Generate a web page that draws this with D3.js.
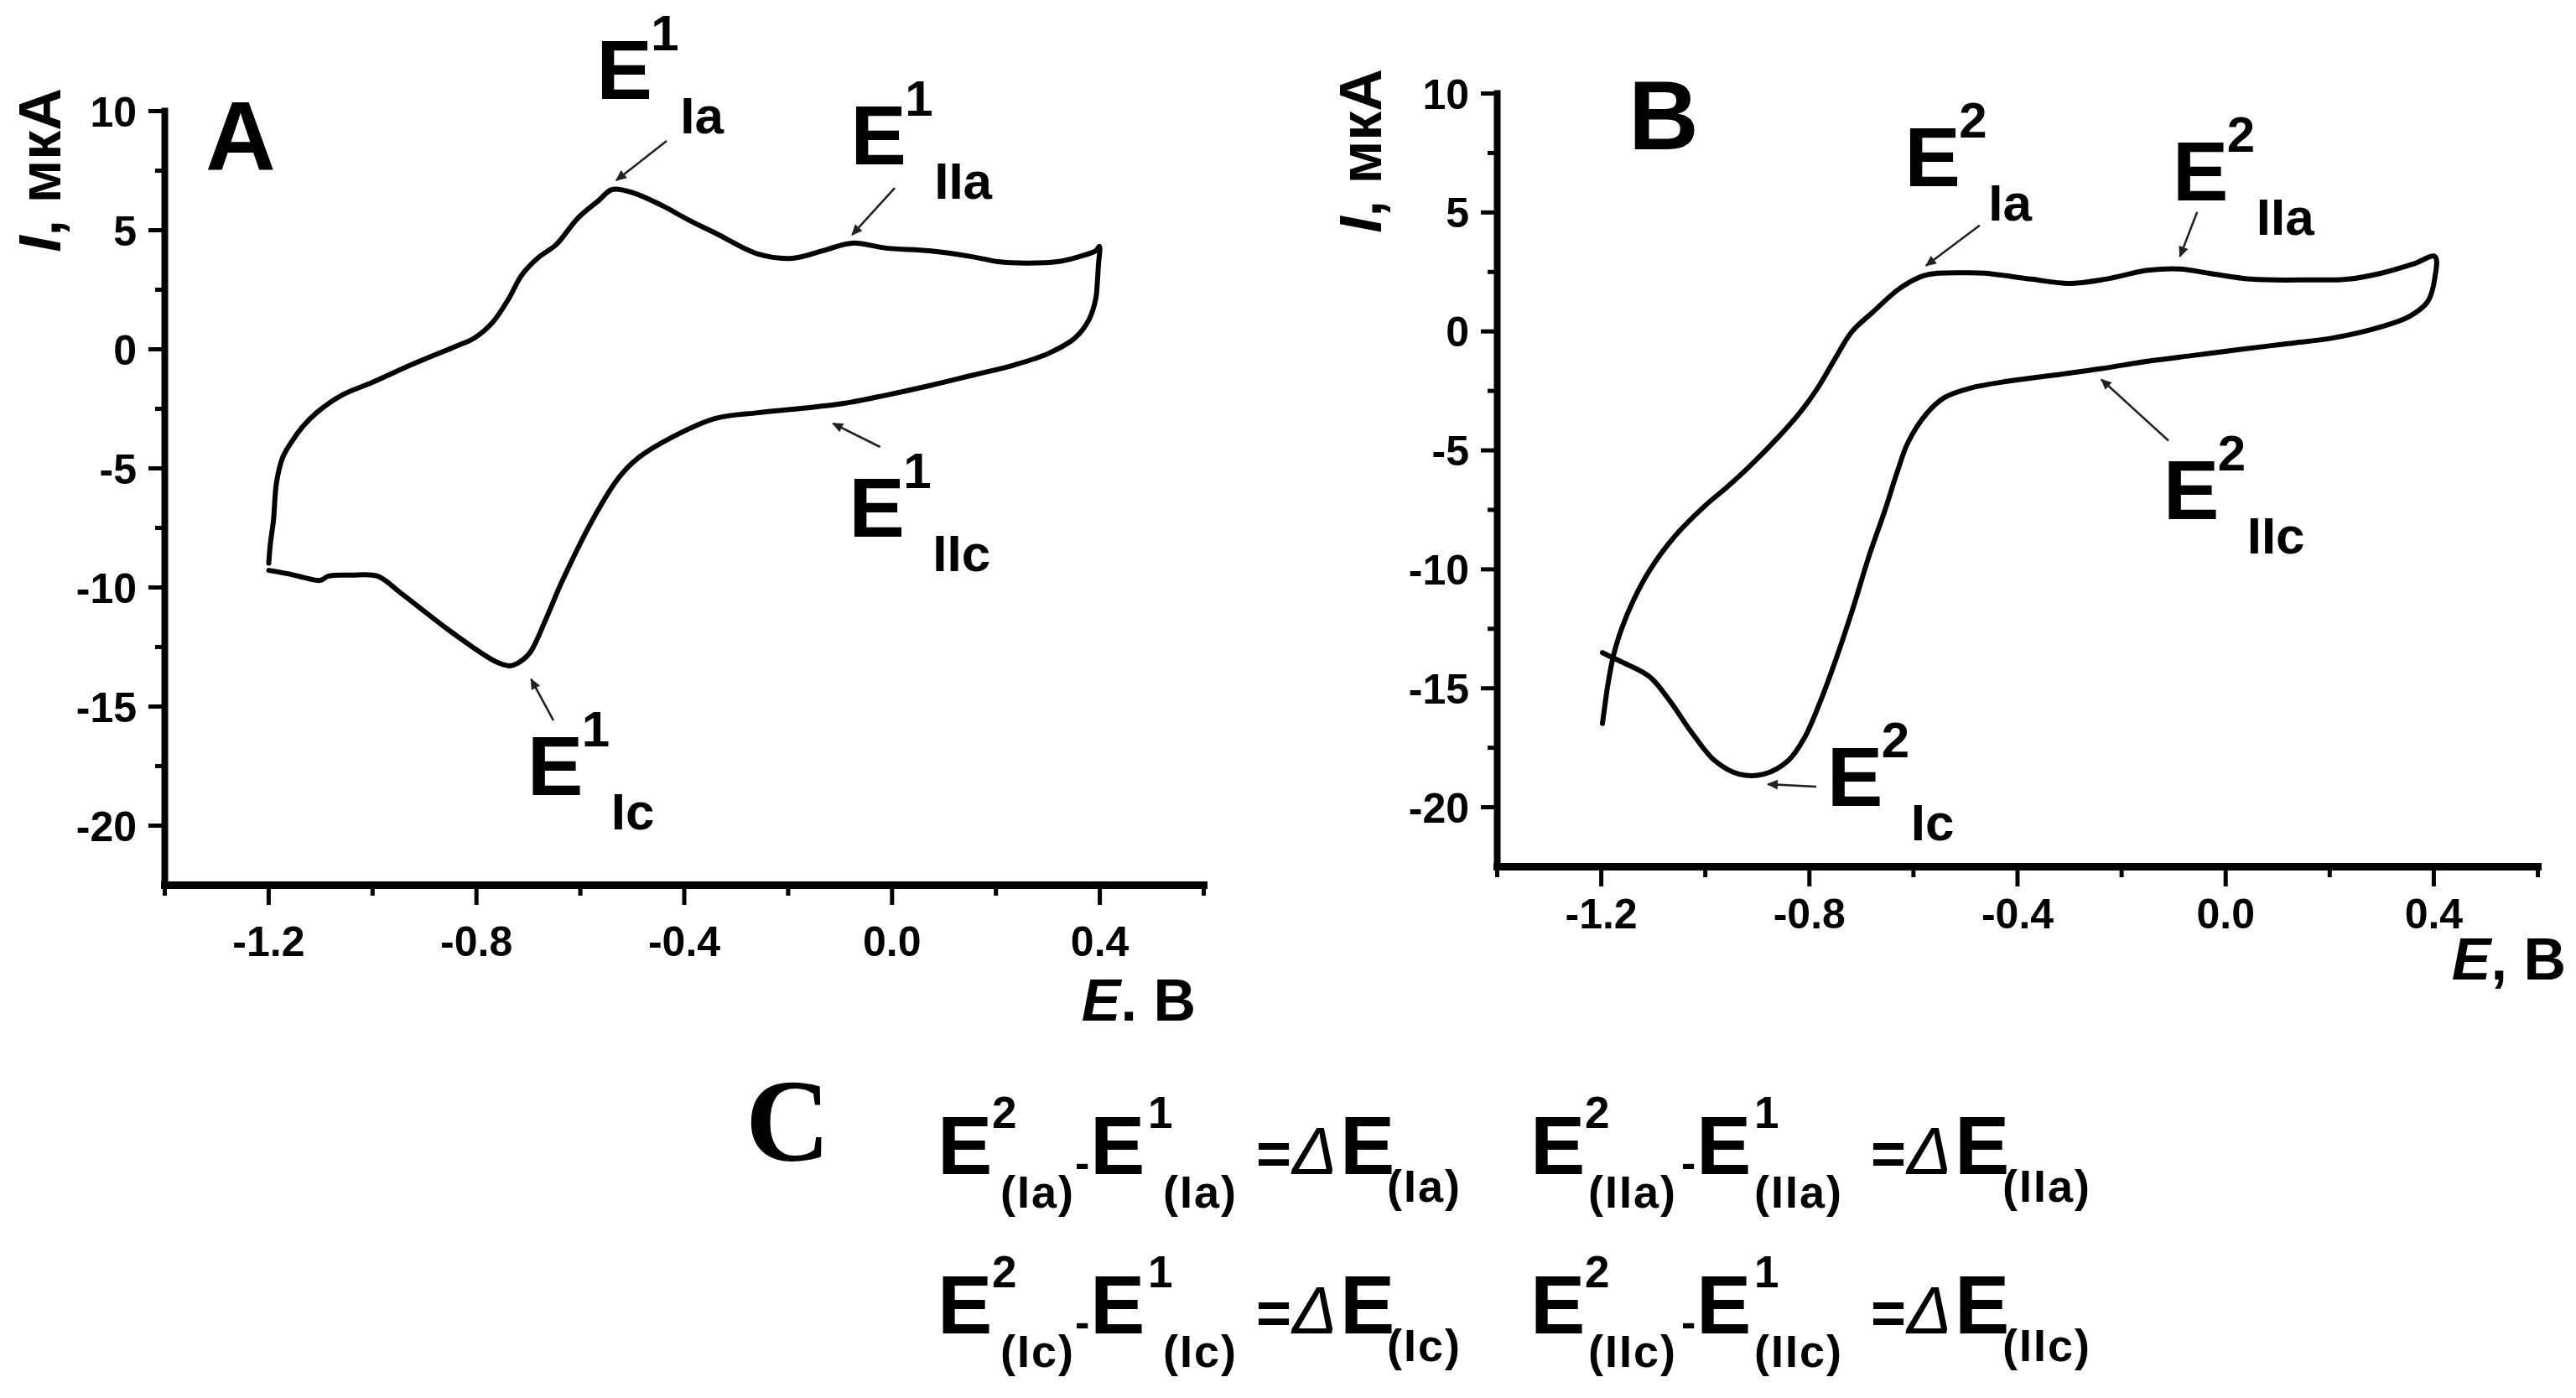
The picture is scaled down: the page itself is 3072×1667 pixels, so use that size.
<!DOCTYPE html>
<html><head><meta charset="utf-8">
<script src="https://cdn.jsdelivr.net/npm/d3@7"></script>
<style>
html,body{margin:0;padding:0;background:#fff;}
svg text{fill:#000;}
</style></head><body>
<svg id="c" width="3072" height="1667" style="font-family:'Liberation Sans',Arial,sans-serif;font-weight:bold;"></svg>
<script>
// ---------- data ----------
const xTickValues = [-1.2, -0.8, -0.4, 0.0, 0.4];
const xTickLabels = ["-1.2", "-0.8", "-0.4", "0.0", "0.4"];
const xMinorTicks = [-1.4, -1.0, -0.6, -0.2, 0.2, 0.6];
const yTickValues = [10, 5, 0, -5, -10, -15, -20];
const yTickLabels = ["10", "5", "0", "-5", "-10", "-15", "-20"];
const yMinorTicks = [7.5, 2.5, -2.5, -7.5, -12.5, -17.5];
const xDomain = [-1.4, 0.6];
const yDomain = [-22.5, 10];

// Panel A voltammogram (E, V ; I, мкА)
const cvA_E = [-1.199,-1.196,-1.190,-1.184,-1.172,-1.155,-1.135,-1.107,-1.058,-1.000,-0.925,-0.843,-0.803,-0.769,-0.737,-0.712,-0.678,-0.646,-0.604,-0.564,-0.538,-0.498,-0.440,-0.390,-0.339,-0.257,-0.191,-0.125,-0.076,-0.010,0.072,0.155,0.205,0.260,0.319,0.361,0.393,0.400,
  0.398,0.396,0.393,0.380,0.353,0.303,0.237,0.155,0.072,-0.010,-0.092,-0.175,-0.257,-0.339,-0.422,-0.488,-0.525,-0.574,-0.635,-0.666,-0.697,-0.720,-0.735,-0.755,-0.774,-0.851,-0.945,-0.990,-1.040,-1.084,-1.100,-1.130,-1.160,-1.199];
const cvA_I = [-9.0,-8.2,-7.2,-5.6,-4.55,-3.9,-3.3,-2.68,-1.94,-1.41,-0.67,0.07,0.46,1.09,2.11,3.10,3.87,4.37,5.49,6.23,6.69,6.55,6.0,5.4,4.86,3.98,3.80,4.17,4.44,4.23,4.12,3.87,3.66,3.60,3.66,3.87,4.12,4.3,
  3.49,2.8,2.11,1.23,0.46,-0.18,-0.67,-1.11,-1.55,-1.94,-2.29,-2.50,-2.68,-2.92,-3.70,-4.58,-5.4,-7.11,-9.79,-11.37,-12.78,-13.2,-13.31,-13.2,-12.99,-11.83,-10.25,-9.54,-9.5,-9.54,-9.72,-9.61,-9.45,-9.3];

// Panel B voltammogram
const cvB_E = [-1.197,-1.192,-1.187,-1.176,-1.161,-1.137,-1.106,-1.058,-1.000,-0.957,-0.910,-0.858,-0.817,-0.784,-0.750,-0.718,-0.677,-0.625,-0.579,-0.552,-0.500,-0.462,-0.373,-0.301,-0.230,-0.149,-0.087,-0.032,0.049,0.165,0.237,0.300,0.362,0.403,
  0.403,0.389,0.353,0.300,0.210,0.120,0.031,-0.059,-0.149,-0.238,-0.328,-0.417,-0.490,-0.540,-0.575,-0.610,-0.630,-0.655,-0.684,-0.715,-0.746,-0.778,-0.809,-0.840,-0.887,-0.934,-0.981,-1.028,-1.067,-1.106,-1.153,-1.184,-1.197];
const cvB_I = [-16.5,-15.7,-14.93,-13.66,-12.57,-11.30,-10.05,-8.63,-7.35,-6.55,-5.6,-4.44,-3.42,-2.42,-1.17,-0.04,0.8,1.8,2.33,2.43,2.45,2.43,2.18,2.0,2.18,2.55,2.61,2.43,2.18,2.15,2.18,2.43,2.82,3.13,
  2.25,1.23,0.60,0.18,-0.28,-0.53,-0.77,-1.02,-1.27,-1.58,-1.85,-2.11,-2.4,-2.8,-3.5,-4.7,-5.9,-7.6,-9.42,-11.62,-13.66,-15.56,-17.11,-18.06,-18.63,-18.63,-18.06,-16.8,-15.56,-14.54,-13.98,-13.66,-13.52];

// Peak labels (placed in data coordinates) and arrows
const peaksA_sup = ["1","1","1","1"];
const peaksA_sub = ["Ia","IIa","IIc","Ic"];
const peaksA_labelE = [-0.557,-0.068,-0.071,-0.690];
const peaksA_labelI = [10.49,7.75,-7.89,-18.73];
const peaksA_arrowFrom = [[-0.433,8.73],[0.006,6.76],[-0.022,-4.12],[-0.651,-15.6]];
const peaksA_arrowTo = [[-0.530,7.08],[-0.076,4.79],[-0.113,-3.13],[-0.694,-13.87]];

const peaksB_sup = ["2","2","2","2"];
const peaksB_sub = ["Ia","IIa","IIc","Ic"];
const peaksB_labelE = [-0.605,-0.090,-0.108,-0.754];
const peaksB_labelI = [6.09,5.49,-7.92,-19.96];
const peaksB_arrowFrom = [[-0.472,4.44],[-0.054,5.0],[-0.109,-4.61],[-0.786,-19.15]];
const peaksB_arrowTo = [[-0.575,2.75],[-0.087,3.13],[-0.238,-2.04],[-0.879,-19.05]];

const formulaRowSubs = [["(Ia)","(IIa)"],["(Ic)","(IIc)"]];

// ---------- drawing ----------
const svg = d3.select("#c");
const defs = svg.append("defs");
defs.append("marker").attr("id","ah").attr("viewBox","0 0 10 10")
  .attr("refX",9).attr("refY",5).attr("markerWidth",6).attr("markerHeight",5)
  .attr("orient","auto").attr("markerUnits","strokeWidth")
  .append("path").attr("d","M0,0.5 L10,5 L0,9.5 z").attr("fill","#222");

function txt(g, x, y, size, s) {
  return g.append("text").attr("x", x).attr("y", y).style("font-size", size + "px").text(s);
}

function peakLabel(g, X, Y, sup, sub) {
  txt(g, X - 7, Y, 100, "E");
  txt(g, X + 58, Y - 58, 60, sup);
  txt(g, X + 93, Y + 41, 62, sub);
}

function drawPanel(p) {
  const g = svg.append("g");
  const x = d3.scaleLinear().domain(xDomain).range([p.left, p.right]);
  const y = d3.scaleLinear().domain(yDomain).range([p.bottom, p.top]);

  const pts = p.E.map((e, i) => [e, p.I[i]]);
  g.append("path")
    .attr("d", d3.line().x(d => x(d[0])).y(d => y(d[1])).curve(d3.curveCatmullRom.alpha(0.5))(pts))
    .attr("fill","none").attr("stroke","#000").attr("stroke-width",6)
    .attr("stroke-linejoin","round").attr("stroke-linecap","round");

  const gyMinor = g.append("g").attr("transform",`translate(${p.left},0)`)
    .call(d3.axisLeft(y).tickValues(yMinorTicks).tickFormat("").tickSize(11).tickSizeOuter(0));
  const gy = g.append("g").attr("transform",`translate(${p.left},0)`)
    .call(d3.axisLeft(y).tickValues(yTickValues).tickFormat((d,i)=>yTickLabels[i])
      .tickSize(19).tickSizeOuter(0).tickPadding(14));
  const gxMinor = g.append("g").attr("transform",`translate(0,${p.bottom})`)
    .call(d3.axisBottom(x).tickValues(xMinorTicks).tickFormat("").tickSize(13).tickSizeOuter(0));
  const gx = g.append("g").attr("transform",`translate(0,${p.bottom})`)
    .call(d3.axisBottom(x).tickValues(xTickValues).tickFormat((d,i)=>xTickLabels[i])
      .tickSize(24).tickSizeOuter(0));
  gx.selectAll(".tick text").attr("y", p.xTickBaseline).attr("dy", 0);

  [gy, gx, gyMinor, gxMinor].forEach(a => {
    a.attr("font-family", null).attr("font-size", null);
    a.selectAll(".tick line").attr("stroke","#000").attr("stroke-width",5);
    a.selectAll("text").style("font-size","50px").style("font-family","'Liberation Sans',Arial,sans-serif")
      .style("font-weight","bold").attr("fill","#000");
  });
  gy.selectAll(".tick text").attr("dy","0.36em");
  gyMinor.select(".domain").remove();
  gxMinor.select(".domain").remove();
  gy.select(".domain").attr("stroke","#000").attr("stroke-width",8).attr("stroke-linecap","square");
  gx.select(".domain").attr("stroke","#000").attr("stroke-width",9).attr("stroke-linecap","square");

  const yl = g.append("text").attr("transform",`translate(${p.yTitleX},${p.yTitleY}) rotate(-90)`)
    .attr("text-anchor","middle").style("font-size","70px");
  yl.append("tspan").style("font-style","italic").text("I");
  yl.append("tspan").text(", мкА");
  const xl = g.append("text").attr("x", p.xTitleX).attr("y", p.xTitleY)
    .attr("text-anchor","end").style("font-size","70px");
  xl.append("tspan").style("font-style","italic").text("E");
  xl.append("tspan").text(p.xTitleRest);

  txt(g, x(p.letterE), y(p.letterI), 116, p.letter);

  p.sup.forEach((s, i) => {
    peakLabel(g, x(p.labelE[i]), y(p.labelI[i]), s, p.sub[i]);
    g.append("line")
      .attr("x1", x(p.from[i][0])).attr("y1", y(p.from[i][1]))
      .attr("x2", x(p.to[i][0])).attr("y2", y(p.to[i][1]))
      .attr("stroke","#222").attr("stroke-width",2.6).attr("marker-end","url(#ah)");
  });
}

drawPanel({left:196, right:1435, top:132, bottom:1055, E:cvA_E, I:cvA_I,
  xTickBaseline:85, yTitleX:72, yTitleY:203, xTitleX:1426, xTitleY:1217, xTitleRest:". В",
  letter:"A", letterE:-1.321, letterI:7.50,
  sup:peaksA_sup, sub:peaksA_sub, labelE:peaksA_labelE, labelI:peaksA_labelI,
  from:peaksA_arrowFrom, to:peaksA_arrowTo});

drawPanel({left:1785, right:3026, top:111, bottom:1033, E:cvB_E, I:cvB_I,
  xTickBaseline:74, yTitleX:1647, yTitleY:180, xTitleX:3060, xTitleY:1168, xTitleRest:", В",
  letter:"B", letterE:-1.147, letterI:7.64,
  sup:peaksB_sup, sub:peaksB_sub, labelE:peaksB_labelE, labelI:peaksB_labelI,
  from:peaksB_arrowFrom, to:peaksB_arrowTo});

// ---------- section C ----------
const gc = svg.append("g");
txt(gc, 889, 1384, 140, "C").style("font-family","'Liberation Serif','Times New Roman',serif").style("font-weight","bold");

function sub(X, Y, s) {
  return txt(gc, X - 4, Y, 54, s).style("letter-spacing","2px");
}
function fGroup(X0, Y, s, o) {
  txt(gc, X0 - 7, Y, 98, "E");
  txt(gc, X0 + 58, Y - 55, 53, "2");
  sub(X0 + o.sub1, Y + 40, s);
  txt(gc, X0 + o.hy - 3, Y + 4, 52, "-");
  txt(gc, X0 + o.e2 - 7, Y, 98, "E");
  txt(gc, X0 + o.e2 + 62, Y - 55, 53, "1");
  sub(X0 + o.e2 + o.sub2, Y + 40, s);
  txt(gc, X0 + o.eq - 5, Y, 72, "=");
  txt(gc, X0 + o.d, Y, 80, "Δ").style("font-style","italic").style("font-weight","normal");
  txt(gc, X0 + o.e3 - 7, Y, 98, "E");
  sub(X0 + o.sub3, Y + 33, s);
}
const g1 = {sub1:72, hy:160, e2:182, sub2:84, eq:378, d:416, e3:480, sub3:533};
const g2 = {sub1:66, hy:176, e2:198, sub2:66, eq:404, d:442, e3:506, sub3:560};
formulaRowSubs.forEach((subs, r) => {
  const Y = 1400 + r * 190;
  fGroup(1125, Y, subs[0], g1);
  fGroup(1832, Y, subs[1], g2);
});
</script>
</body></html>
